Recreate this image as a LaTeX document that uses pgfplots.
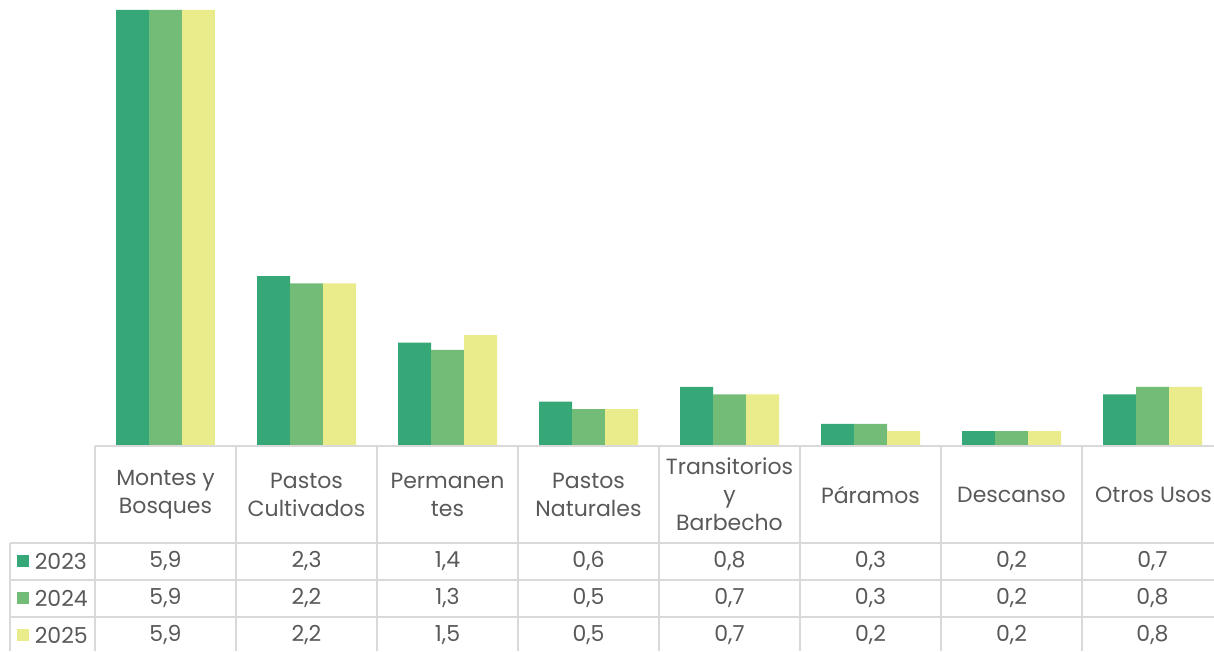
\documentclass[border=0pt]{standalone}
\usepackage{pgfplots}
\pgfplotsset{compat=1.18}
\usepackage{fontspec}
\setmainfont{Poppins}
\definecolor{cA}{RGB}{54,168,120}
\definecolor{cB}{RGB}{114,188,120}
\definecolor{cC}{RGB}{234,235,138}
\definecolor{gridc}{RGB}{217,217,217}
\definecolor{txt}{RGB}{89,89,89}
\begin{document}
\begin{tikzpicture}
\useasboundingbox (0,0) rectangle (910.5pt,-488.25pt);
\begin{axis}[at={(71.25pt,-334.5pt)}, anchor=south west, scale only axis,
  width=839.25pt, height=334.5pt, xmin=-0.5, xmax=7.436, ymin=0, ymax=6.035,
  axis lines=none, ticks=none, ybar, bar width=0.234]
\addplot[fill=cA, draw=none, bar shift=-0.234] coordinates {(0,5.9) (1,2.3) (2,1.4) (3,0.6) (4,0.8) (5,0.3) (6,0.2) (7,0.7)};
\addplot[fill=cB, draw=none, bar shift=0] coordinates {(0,5.9) (1,2.2) (2,1.3) (3,0.5) (4,0.7) (5,0.3) (6,0.2) (7,0.8)};
\addplot[fill=cC, draw=none, bar shift=0.234] coordinates {(0,5.9) (1,2.2) (2,1.5) (3,0.5) (4,0.7) (5,0.2) (6,0.2) (7,0.8)};
\end{axis}
\begin{scope}[x=0.75pt,y=-0.75pt, draw=gridc, line width=1.2pt,
  every node/.style={text=txt, font=\fontsize{16.5}{21}\selectfont, align=center, inner sep=0pt}]
\draw (95,446) -- (1214,446);
\foreach \k in {0,...,7} \draw ({95+141*\k},446) -- ({95+141*\k},651);
\foreach \y in {543,580,617} \draw (10,\y) -- (1214,\y);
\draw (10,543) -- (10,651);
\node at (165.5,494.5) {Montes y\\Bosques};
\node at (306.5,494.5) {Pastos\\Cultivados};
\node at (447.5,494.5) {Permanen\\tes};
\node at (588.5,494.5) {Pastos\\Naturales};
\node at (729.5,494.5) {Transitorios\\y\\Barbecho};
\node at (870.5,494.5) {Páramos};
\node at (1011.5,494.5) {Descanso};
\node at (1153.5,494.5) {Otros Usos};
\fill[cA] (17,555) rectangle (29,567);
\fill[cB] (17,592) rectangle (29,604);
\fill[cC] (17,629) rectangle (29,641);
\node[anchor=west] at (34,561) {2023};
\node[anchor=west] at (34,598) {2024};
\node[anchor=west] at (34,635) {2025};
\node at (165.5,561) {5,9}; \node at (306.5,561) {2,3}; \node at (447.5,561) {1,4}; \node at (588.5,561) {0,6};
\node at (729.5,561) {0,8}; \node at (870.5,561) {0,3}; \node at (1011.5,561) {0,2}; \node at (1152.5,561) {0,7};
\node at (165.5,598) {5,9}; \node at (306.5,598) {2,2}; \node at (447.5,598) {1,3}; \node at (588.5,598) {0,5};
\node at (729.5,598) {0,7}; \node at (870.5,598) {0,3}; \node at (1011.5,598) {0,2}; \node at (1152.5,598) {0,8};
\node at (165.5,635) {5,9}; \node at (306.5,635) {2,2}; \node at (447.5,635) {1,5}; \node at (588.5,635) {0,5};
\node at (729.5,635) {0,7}; \node at (870.5,635) {0,2}; \node at (1011.5,635) {0,2}; \node at (1152.5,635) {0,8};
\end{scope}
\end{tikzpicture}
\end{document}
